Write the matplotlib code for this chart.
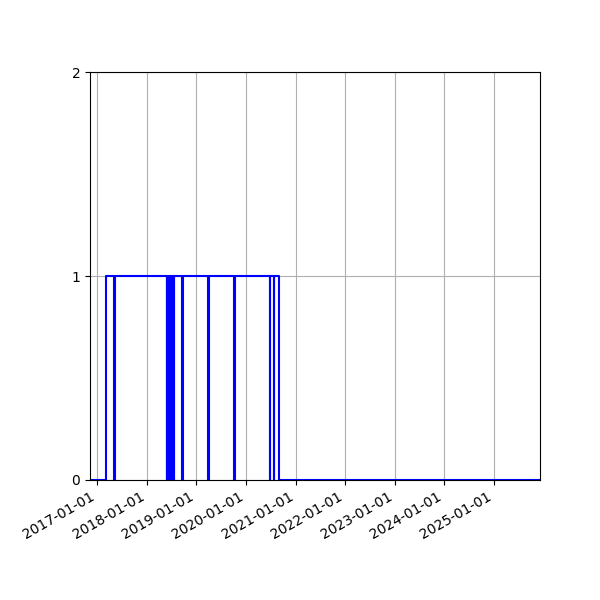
import pandas as pd
import matplotlib
matplotlib.use("Agg")
import matplotlib.pyplot as plt
import matplotlib.dates as mdates

# change points of the on/off state (step, held until next change)
change_dates = [
    "2016-11-09", "2017-03-08",
    "2017-05-04", "2017-05-11",
    "2018-05-27", "2018-05-29", "2018-06-01", "2018-06-04",
    "2018-06-07", "2018-06-09", "2018-06-13", "2018-06-15",
    "2018-06-18", "2018-06-20", "2018-06-24", "2018-06-26",
    "2018-06-30", "2018-07-02", "2018-07-07", "2018-07-09",
    "2018-07-14", "2018-07-16", "2018-07-20", "2018-07-23",
    "2018-09-17", "2018-09-24",
    "2019-03-30", "2019-04-06",
    "2019-10-09", "2019-10-16",
    "2020-06-24", "2020-06-30",
    "2020-07-23", "2020-07-29",
    "2020-09-01", "2025-12-06",
]
state = [
    0, 1,
    0, 1,
    0, 1, 0, 1,
    0, 1, 0, 1,
    0, 1, 0, 1,
    0, 1, 0, 1,
    0, 1, 0, 1,
    0, 1,
    0, 1,
    0, 1,
    0, 1,
    0, 1,
    0, 0,
]

dates = pd.to_datetime(change_dates)

fig, ax = plt.subplots(figsize=(6, 6), dpi=100)
ax.step(dates, state, where="post", color="blue")

ax.set_xlim(dates[0], dates[-1])
ax.set_ylim(0, 2)
ax.set_yticks([0, 1, 2])
ax.xaxis.set_major_locator(mdates.YearLocator())
ax.xaxis.set_major_formatter(mdates.DateFormatter("%Y-%m-%d"))
ax.grid(True)
fig.autofmt_xdate()
fig.subplots_adjust(left=0.15, right=0.9, top=0.88, bottom=0.2)

fig.savefig("out.png")
